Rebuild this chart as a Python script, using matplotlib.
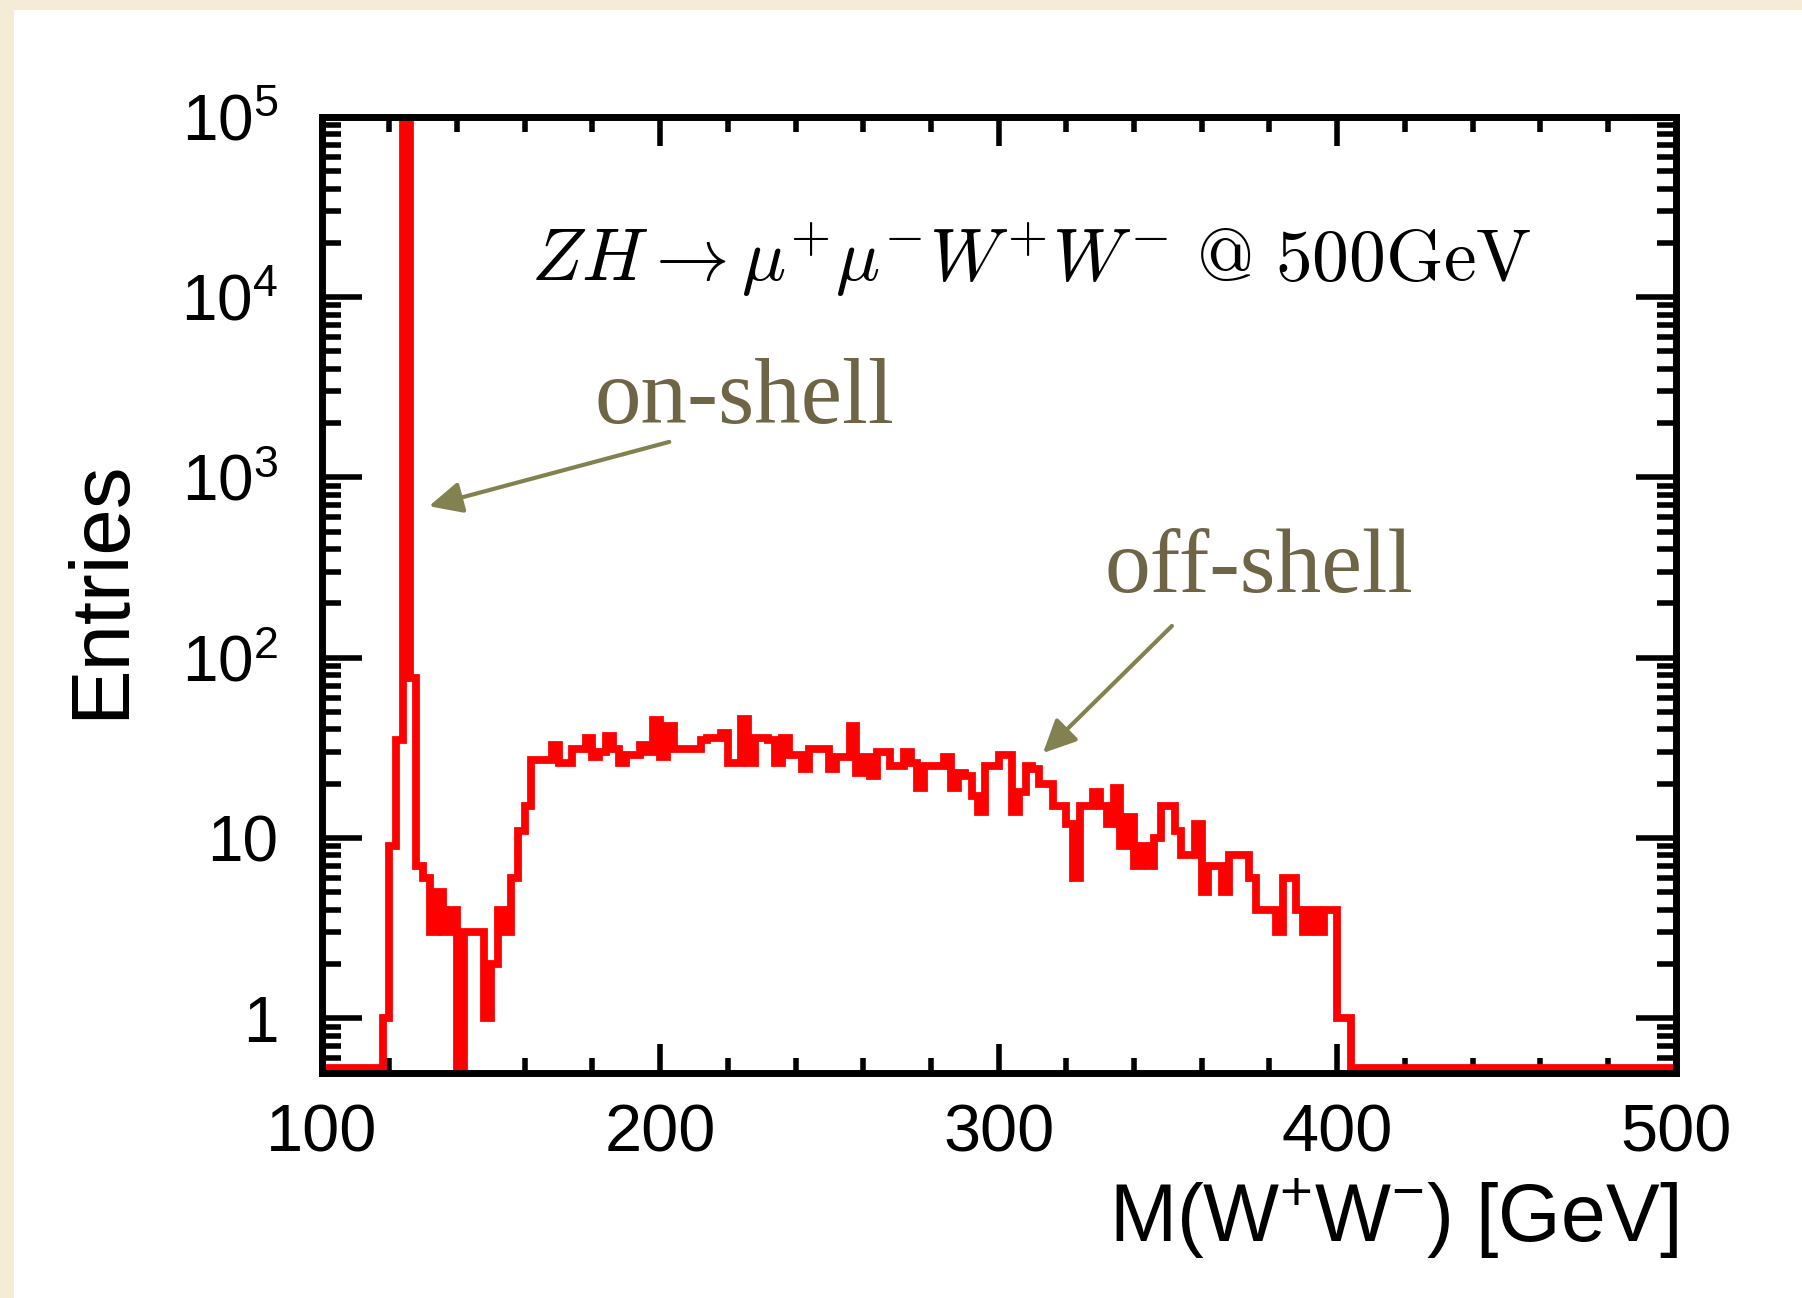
"""
M(W+W-) 분포 히스토그램 재현 (ROOT 스타일, 로그 스케일)
"""
import numpy as np
import matplotlib
matplotlib.use('Agg')
import matplotlib.pyplot as plt
import matplotlib.patches as patches
from matplotlib.ticker import LogLocator, MultipleLocator, NullFormatter

# 히스토그램 구간 (2 GeV 폭)
bin_low = 100
bin_high = 500
bin_width = 2

# 빈별 entries, 한 줄 = 20 GeV (10 빈)
entries = [
    0, 0, 0, 0, 0, 0, 0, 0, 0, 1,              # 100-118
    9, 35, 150000, 77, 7, 6, 3, 5, 3, 4,       # 120-138
    0, 3, 3, 3, 1, 2, 4, 3, 6, 11,             # 140-158
    15, 27, 27, 27, 33, 26, 26, 31, 31, 36,    # 160-178
    28, 30, 37, 31, 26, 29, 29, 33, 30, 45,    # 180-198
    28, 42, 31, 31, 31, 31, 35, 36, 36, 38,    # 200-218
    26, 26, 46, 26, 36, 36, 35, 26, 36, 29,    # 220-238
    29, 24, 31, 31, 31, 24, 28, 28, 42, 23,    # 240-258
    28, 22, 30, 30, 25, 25, 30, 26, 19, 25,    # 260-278
    25, 25, 28, 19, 23, 22, 17, 14, 25, 25,    # 280-298
    29, 29, 14, 18, 25, 24, 20, 20, 15, 15,    # 300-318
    12, 6, 15, 15, 18, 15, 12, 19, 9, 13,      # 320-338
    7, 9, 7, 10, 15, 15, 11, 8, 8, 12,         # 340-358
    5, 7, 7, 5, 8, 8, 8, 6, 4, 4,              # 360-378
    4, 3, 6, 6, 4, 3, 4, 3, 4, 4,              # 380-398
    1, 1, 0, 0, 0, 0, 0, 0, 0, 0,              # 400-418
    0, 0, 0, 0, 0, 0, 0, 0, 0, 0,              # 420-438
    0, 0, 0, 0, 0, 0, 0, 0, 0, 0,              # 440-458
    0, 0, 0, 0, 0, 0, 0, 0, 0, 0,              # 460-478
    0, 0, 0, 0, 0, 0, 0, 0, 0, 0,              # 480-498
]

x_ticks = [100, 200, 300, 400, 500]
x_tick_labels = ['100', '200', '300', '400', '500']
y_ticks = [1, 10, 100, 1e3, 1e4, 1e5]
y_tick_labels = ['1', '10', r'$\mathregular{10^{2}}$', r'$\mathregular{10^{3}}$',
                 r'$\mathregular{10^{4}}$', r'$\mathregular{10^{5}}$']

# 주석 (텍스트, 위치, 화살표)
title_text = r'$ZH \rightarrow \mu^{+}\mu^{-}W^{+}W^{-}\ \mathrm{@\ 500GeV}$'
on_shell_text = 'on-shell'
off_shell_text = 'off-shell'

W, H = 1802, 1298
BEIGE = '#f5ecd6'
TEXT_COLOR = '#6e6446'
ARROW_COLOR = '#828250'


def setup_fonts():
    """ROOT Helvetica 대용 폰트 설정"""
    plt.rcParams['font.family'] = ['Liberation Sans', 'DejaVu Sans']
    plt.rcParams['mathtext.fontset'] = 'custom'
    plt.rcParams['mathtext.rm'] = 'Liberation Sans'
    plt.rcParams['mathtext.it'] = 'Liberation Sans:italic'
    plt.rcParams['mathtext.bf'] = 'Liberation Sans:bold'


def draw(output_path='out.png'):
    setup_fonts()
    fig = plt.figure(figsize=(W / 100, H / 100), dpi=100)
    fig.patch.set_facecolor(BEIGE)

    # 흰색 패널 (축보다 아래)
    panel = patches.Rectangle((14 / W, 0), 1, 1 - 10 / H, transform=fig.transFigure,
                              facecolor='white', edgecolor='none', zorder=-10)
    fig.patches.append(panel)

    ax = fig.add_axes([321.6 / W, 1 - 1072.6 / H, (1675.6 - 321.6) / W, (1072.6 - 116.8) / H])
    ax.set_facecolor('white')
    ax.set_zorder(1)

    # 히스토그램 (0 인 빈은 프레임 바닥에 그림)
    edges = np.arange(bin_low, bin_high + bin_width, bin_width)
    counts = np.array(entries, dtype=float)
    shown = np.where(counts > 0, counts, 0.53)
    ax.stairs(shown, edges, baseline=None, color='red', linewidth=5.6,
              joinstyle='miter', zorder=2)

    ax.set_yscale('log')
    ax.set_xlim(bin_low, bin_high)
    ax.set_ylim(0.5, 1e5)

    ax.set_xticks(x_ticks, labels=x_tick_labels)
    ax.xaxis.set_minor_locator(MultipleLocator(20))
    ax.set_yticks(y_ticks, labels=y_tick_labels)
    ax.yaxis.set_minor_locator(LogLocator(base=10, subs=np.arange(2, 10), numticks=50))
    ax.yaxis.set_minor_formatter(NullFormatter())

    ax.tick_params(axis='both', which='both', direction='in', top=True, right=True,
                   width=4, color='black')
    ax.tick_params(axis='y', which='major', length=29, pad=31, labelsize=46)
    ax.tick_params(axis='y', which='minor', length=14)
    ax.tick_params(axis='x', which='major', length=21, pad=22, labelsize=48)
    ax.tick_params(axis='x', which='minor', length=11)
    for spine in ax.spines.values():
        spine.set_linewidth(5)
        spine.set_zorder(3)

    # 축 제목
    fig.text(1678 / W, 1 - 1241 / H, r'M(W$^{+}$W$^{-}$) [GeV]', ha='right',
             va='baseline', fontsize=58)
    fig.text(101 / W, 1 - 589 / H, 'Entries', rotation=90, ha='center',
             va='center', fontsize=60)

    # 과정 표시
    ax.text(161.8, 12300, title_text, math_fontfamily='cm', fontsize=53,
            ha='left', va='baseline')

    # on-shell / off-shell 주석
    ax.text(180.7, 2004, on_shell_text, family='Liberation Serif', fontsize=67,
            color=TEXT_COLOR, ha='left', va='baseline')
    ax.text(331.4, 231, off_shell_text, family='Liberation Serif', fontsize=66,
            color=TEXT_COLOR, ha='left', va='baseline')

    arrow = dict(arrowstyle='-|>,head_length=0.42,head_width=0.2', color=ARROW_COLOR,
                 lw=3, mutation_scale=48, shrinkA=0, shrinkB=0)
    ax.annotate('', xy=(131.7, 692), xytext=(202.7, 1574), arrowprops=arrow)
    ax.annotate('', xy=(313.1, 29.6), xytext=(351.2, 150), arrowprops=arrow)

    fig.savefig(output_path, dpi=100, facecolor=fig.get_facecolor())
    plt.close(fig)


def main():
    draw('out.png')


if __name__ == "__main__":
    main()
